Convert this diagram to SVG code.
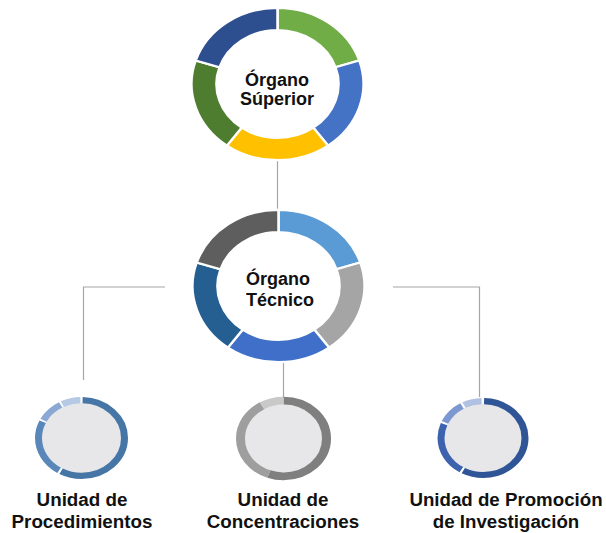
<svg xmlns="http://www.w3.org/2000/svg" width="606" height="533" viewBox="0 0 606 533">
<style>
.seg{stroke:#fff;stroke-width:2.5;stroke-linejoin:miter}
.hole{fill:#fff}
.disc{fill:#E7E7E9}
.ring{fill:none}
.lbl{font-family:"Liberation Sans",Arial,sans-serif;font-weight:bold;fill:#111;text-anchor:middle}
.conn{fill:none;stroke:#A6A6A6;stroke-width:1.2}
</style>
<defs>
<path id="s1" d="M0,-86 A86,86 0 0 1 81.79,-26.57 L58.02,-18.85 A61,61 0 0 0 0,-61 Z"/>
<path id="s2" d="M81.79,-26.57 A86,86 0 0 1 50.55,69.57 L35.86,49.35 A61,61 0 0 0 58.02,-18.85 Z"/>
<path id="s3" d="M50.55,69.57 A86,86 0 0 1 -50.55,69.57 L-35.86,49.35 A61,61 0 0 0 35.86,49.35 Z"/>
<path id="s4" d="M-50.55,69.57 A86,86 0 0 1 -81.79,-26.57 L-58.02,-18.85 A61,61 0 0 0 -35.86,49.35 Z"/>
<path id="s5" d="M-81.79,-26.57 A86,86 0 0 1 0,-86 L0,-61 A61,61 0 0 0 -58.02,-18.85 Z"/>
</defs>

<g id="connectors">
<line class="conn" x1="277.5" y1="160" x2="277.5" y2="211"/>
<polyline class="conn" points="165,287 83.5,287 83.5,380"/>
<polyline class="conn" points="393,287 479.5,287 479.5,397"/>
<line class="conn" x1="283.5" y1="361" x2="283.5" y2="398"/>
</g>

<g id="organo-superior">
<g transform="translate(277.5,84) scale(1,0.885)">
<use href="#s1" class="seg" fill="#70AD47"/>
<use href="#s2" class="seg" fill="#4472C4"/>
<use href="#s3" class="seg" fill="#FFC000"/>
<use href="#s4" class="seg" fill="#4E7D2F"/>
<use href="#s5" class="seg" fill="#2E4F8F"/>
<circle class="hole" r="61"/>
</g>
<text class="lbl" font-size="18" x="277" y="86">Órgano</text>
<text class="lbl" font-size="18" x="277" y="105">Súperior</text>
</g>

<g id="organo-tecnico">
<g transform="translate(278.5,286) scale(1,0.885)">
<use href="#s1" class="seg" fill="#5B9BD5"/>
<use href="#s2" class="seg" fill="#A5A5A5"/>
<use href="#s3" class="seg" fill="#3F6FC9"/>
<use href="#s4" class="seg" fill="#255E91"/>
<use href="#s5" class="seg" fill="#5E5E5E"/>
<circle class="hole" r="61"/>
</g>
<text class="lbl" font-size="18" x="278" y="285">Órgano</text>
<text class="lbl" font-size="18" x="280" y="306">Técnico</text>
</g>

<g id="unidad-procedimientos">
<g transform="translate(81.5,438) scale(1,0.88)">
<circle class="disc" r="40"/>
<g transform="rotate(-90)">
<circle class="ring" r="43" stroke="#4676A6" stroke-width="7" pathLength="360" stroke-dasharray="207 360" stroke-dashoffset="-1.5"/>
<circle class="ring" r="43" stroke="#5A87B9" stroke-width="7" pathLength="360" stroke-dasharray="84 360" stroke-dashoffset="-211.5"/>
<circle class="ring" r="43" stroke="#8AA8D3" stroke-width="7" pathLength="360" stroke-dasharray="33 360" stroke-dashoffset="-298"/>
<circle class="ring" r="43" stroke="#B5C8E4" stroke-width="7" pathLength="360" stroke-dasharray="25 360" stroke-dashoffset="-333.5"/>
</g>
</g>
<text class="lbl" font-size="18.8" x="82" y="506">Unidad de</text>
<text class="lbl" font-size="18.8" x="82" y="528">Procedimientos</text>
</g>

<g id="unidad-concentraciones">
<g transform="translate(283.5,438.5) scale(1,0.88)">
<circle class="disc" r="39"/>
<g transform="rotate(-90)">
<circle class="ring" r="43" stroke="#7F7F7F" stroke-width="9" pathLength="360" stroke-dasharray="200 360" stroke-dashoffset="0"/>
<circle class="ring" r="43" stroke="#9E9E9E" stroke-width="9" pathLength="360" stroke-dasharray="130 360" stroke-dashoffset="-200"/>
<circle class="ring" r="43" stroke="#C9C9C9" stroke-width="9" pathLength="360" stroke-dasharray="30 360" stroke-dashoffset="-330"/>
</g>
</g>
<text class="lbl" font-size="18.8" x="283" y="506">Unidad de</text>
<text class="lbl" font-size="18.8" x="283" y="528">Concentraciones</text>
</g>

<g id="unidad-promocion">
<g transform="translate(483,438) scale(1,0.88)">
<circle class="disc" r="39"/>
<g transform="rotate(-90)">
<circle class="ring" r="42" stroke="#2F5597" stroke-width="7" pathLength="360" stroke-dasharray="206.5 360" stroke-dashoffset="-1.5"/>
<circle class="ring" r="42" stroke="#3D63AE" stroke-width="7" pathLength="360" stroke-dasharray="81 360" stroke-dashoffset="-211"/>
<circle class="ring" r="42" stroke="#7C98D0" stroke-width="7" pathLength="360" stroke-dasharray="35 360" stroke-dashoffset="-295"/>
<circle class="ring" r="42" stroke="#B0C1E2" stroke-width="7" pathLength="360" stroke-dasharray="25 360" stroke-dashoffset="-333"/>
</g>
</g>
<text class="lbl" font-size="18.7" x="506" y="506">Unidad de Promoción</text>
<text class="lbl" font-size="18.7" x="506" y="528">de Investigación</text>
</g>
</svg>
